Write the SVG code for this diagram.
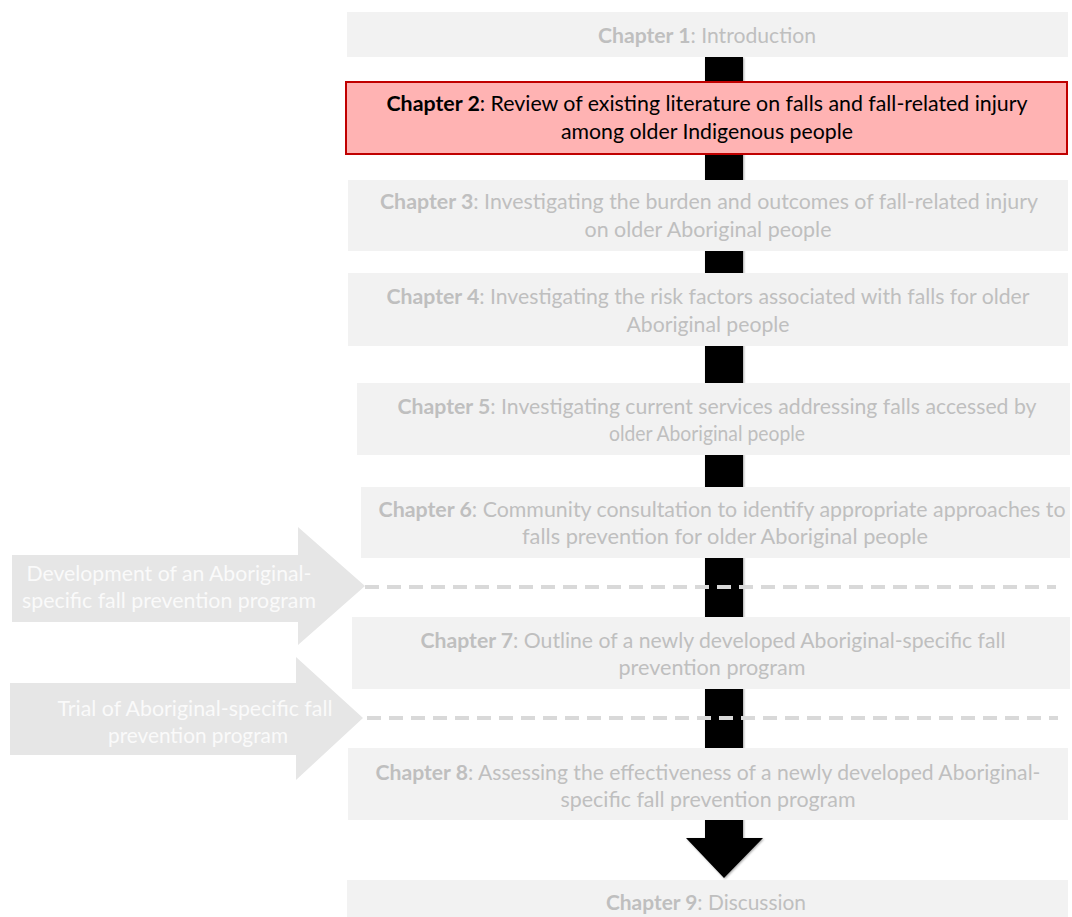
<svg xmlns="http://www.w3.org/2000/svg" width="1072" height="917" viewBox="0 0 1072 917">
<defs>
<style>
.box{fill:#f2f2f2;}
.hi{fill:#ffb3b3;stroke:#c00000;stroke-width:2;}
.t{font-family:Lato,"Liberation Sans",sans-serif;font-size:20.5px;fill:#bfbfbf;text-anchor:middle;}
.t2{font-family:Lato,"Liberation Sans",sans-serif;font-size:20.5px;fill:#000;text-anchor:middle;}
.b{font-weight:bold;}
.side{fill:#e6e6e6;}
.st{font-family:Lato,"Liberation Sans",sans-serif;font-size:21.5px;fill:#fafafa;text-anchor:middle;}
.dash{stroke:#d9d9d9;stroke-width:4;stroke-dasharray:14 8;fill:none;}
</style>
<filter id="sh" x="-20%" y="-5%" width="140%" height="110%">
<feDropShadow dx="1" dy="1" stdDeviation="1" flood-color="#000" flood-opacity="0.35"/>
</filter>
</defs>
<rect width="1072" height="917" fill="#ffffff"/>
<g id="connectors">
<path id="spine" d="M705,57 H743 V838 H763 L724,878 L686,838 H705 Z" fill="#000" filter="url(#sh)"/>
</g>
<g id="ch1"><rect class="box" x="347" y="12" width="721" height="45"/>
<text class="t" x="707" y="43" textLength="218" lengthAdjust="spacingAndGlyphs"><tspan class="b">Chapter 1</tspan>: Introduction</text></g>
<g id="ch2"><rect class="hi" x="346" y="82" width="721" height="72"/>
<text class="t2" x="707" y="111" textLength="641" lengthAdjust="spacingAndGlyphs"><tspan class="b">Chapter 2</tspan>: Review of existing literature on falls and fall-related injury</text>
<text class="t2" x="707" y="139" textLength="292" lengthAdjust="spacingAndGlyphs">among older Indigenous people</text></g>
<g id="ch3"><rect class="box" x="348" y="180" width="720" height="71"/>
<text class="t" x="709" y="209" textLength="658" lengthAdjust="spacingAndGlyphs"><tspan class="b">Chapter 3</tspan>: Investigating the burden and outcomes of fall-related injury</text>
<text class="t" x="708" y="237" textLength="247" lengthAdjust="spacingAndGlyphs">on older Aboriginal people</text></g>
<g id="ch4"><rect class="box" x="348" y="273" width="720" height="73"/>
<text class="t" x="708" y="304" textLength="643" lengthAdjust="spacingAndGlyphs"><tspan class="b">Chapter 4</tspan>: Investigating the risk factors associated with falls for older</text>
<text class="t" x="708" y="332" textLength="163" lengthAdjust="spacingAndGlyphs">Aboriginal people</text></g>
<g id="ch5"><rect class="box" x="357" y="383" width="713" height="72"/>
<text class="t" x="717" y="414" textLength="639" lengthAdjust="spacingAndGlyphs"><tspan class="b">Chapter 5</tspan>: Investigating current services addressing falls accessed by</text>
<text class="t" x="707" y="441" textLength="196" lengthAdjust="spacingAndGlyphs">older Aboriginal people</text></g>
<g id="ch6"><rect class="box" x="361" y="487" width="709" height="71"/>
<text class="t" x="722" y="517" textLength="687" lengthAdjust="spacingAndGlyphs"><tspan class="b">Chapter 6</tspan>: Community consultation to identify appropriate approaches to</text>
<text class="t" x="725" y="544" textLength="406" lengthAdjust="spacingAndGlyphs">falls prevention for older Aboriginal people</text></g>
<g id="ch7"><rect class="box" x="352" y="617" width="718" height="72"/>
<text class="t" x="713" y="648" textLength="585" lengthAdjust="spacingAndGlyphs"><tspan class="b">Chapter 7</tspan>: Outline of a newly developed Aboriginal-specific fall</text>
<text class="t" x="712" y="675" textLength="187" lengthAdjust="spacingAndGlyphs">prevention program</text></g>
<g id="ch8"><rect class="box" x="348" y="748" width="720" height="72"/>
<text class="t" x="708" y="780" textLength="665" lengthAdjust="spacingAndGlyphs"><tspan class="b">Chapter 8</tspan>: Assessing the effectiveness of a newly developed Aboriginal-</text>
<text class="t" x="708" y="807" textLength="295" lengthAdjust="spacingAndGlyphs">specific fall prevention program</text></g>
<g id="ch9"><rect class="box" x="347" y="880" width="721" height="37"/>
<text class="t" x="706" y="910" textLength="200" lengthAdjust="spacingAndGlyphs"><tspan class="b">Chapter 9</tspan>: Discussion</text></g>
<g id="phase1"><path class="side" d="M12,555 H298 V527 L365,586 L298,645 V622 H12 Z"/>
<text class="st" x="169" y="581" textLength="285" lengthAdjust="spacingAndGlyphs">Development of an Aboriginal-</text>
<text class="st" x="169" y="608" textLength="294" lengthAdjust="spacingAndGlyphs">specific fall prevention program</text></g>
<g id="phase2"><path class="side" d="M10,683 H296 V657 L363,718 L296,780 V755 H10 Z"/>
<text class="st" x="195" y="716" textLength="275" lengthAdjust="spacingAndGlyphs">Trial of Aboriginal-specific fall</text>
<text class="st" x="198" y="743" textLength="180" lengthAdjust="spacingAndGlyphs">prevention program</text></g>
<g id="dividers">
<line class="dash" x1="365" y1="587" x2="1056" y2="587"/>
<line class="dash" x1="367" y1="718" x2="1058" y2="718"/>
</g>
</svg>
